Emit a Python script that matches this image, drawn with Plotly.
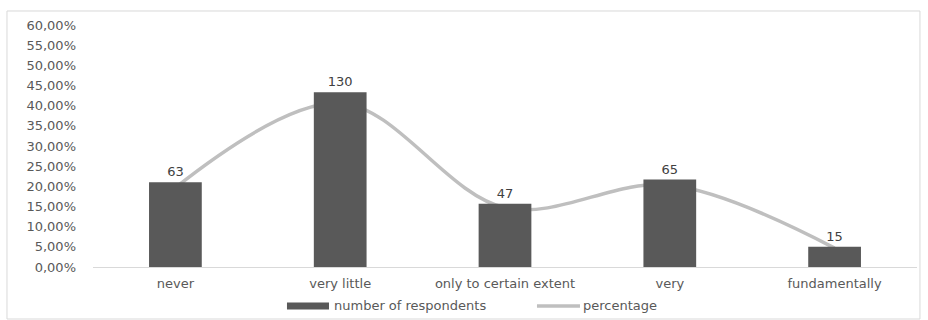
import plotly.graph_objects as go

# Survey answers
categories = ["never", "very little", "only to certain extent", "very", "fundamentally"]
respondents = [63, 130, 47, 65, 15]
percentage = [0.1969, 0.4063, 0.1469, 0.2031, 0.0469]

tick_vals = [i * 0.05 for i in range(13)]
tick_text = ["0,00%", "5,00%", "10,00%", "15,00%", "20,00%", "25,00%", "30,00%",
             "35,00%", "40,00%", "45,00%", "50,00%", "55,00%", "60,00%"]

series_names = ["number of respondents", "percentage"]

FONT = "DejaVu Sans"
BAR_COLOR = "#595959"
LINE_COLOR = "#BFBFBF"
TEXT_COLOR = "#595959"
FS = 13

fig = go.Figure()

fig.add_trace(go.Bar(
    x=categories,
    y=respondents,
    name=series_names[0],
    yaxis="y2",
    marker=dict(color=BAR_COLOR, line=dict(width=0)),
    width=0.32,
    text=[str(v) for v in respondents],
    textposition="outside",
    cliponaxis=False,
    textfont=dict(family=FONT, size=FS, color="#404040"),
    showlegend=False,
))

fig.add_trace(go.Scatter(
    x=categories,
    y=percentage,
    name=series_names[1],
    mode="lines",
    line=dict(color=LINE_COLOR, width=3.5, shape="spline", smoothing=1.0),
    showlegend=False,
))

# Legend row beneath the category axis (paper coordinates)
legend_y = -0.161
shapes = [
    # outer chart frame
    dict(type="rect", xref="paper", yref="paper",
         x0=-0.1044, x1=1.0036, y0=-0.2149, y1=1.0579,
         line=dict(color="#D9D9D9", width=1), fillcolor="rgba(0,0,0,0)",
         layer="below"),
    # bar swatch
    dict(type="rect", xref="paper", yref="paper",
         x0=0.2354, x1=0.2864, y0=legend_y - 0.0145, y1=legend_y + 0.0145,
         line=dict(width=0), fillcolor=BAR_COLOR),
    # line swatch
    dict(type="line", xref="paper", yref="paper",
         x0=0.5388, x1=0.5910, y0=legend_y, y1=legend_y,
         line=dict(color=LINE_COLOR, width=3.5)),
]
annotations = [
    dict(xref="paper", yref="paper", x=0.2895, y=legend_y,
         xanchor="left", yanchor="middle", showarrow=False,
         text=series_names[0], font=dict(family=FONT, size=FS, color=TEXT_COLOR)),
    dict(xref="paper", yref="paper", x=0.5925, y=legend_y,
         xanchor="left", yanchor="middle", showarrow=False,
         text=series_names[1], font=dict(family=FONT, size=FS, color=TEXT_COLOR)),
]

fig.update_layout(
    width=928,
    height=320,
    margin=dict(l=93, r=11, t=25, b=53),
    paper_bgcolor="white",
    plot_bgcolor="white",
    font=dict(family=FONT, size=FS, color=TEXT_COLOR),
    showlegend=False,
    xaxis=dict(
        showline=True,
        linecolor="#D9D9D9",
        linewidth=1,
        showgrid=False,
        ticks="",
        ticklabelstandoff=4,
        tickfont=dict(family=FONT, size=FS, color=TEXT_COLOR),
    ),
    yaxis=dict(
        range=[0, 0.6],
        tickvals=tick_vals,
        ticktext=tick_text,
        showgrid=False,
        zeroline=False,
        showline=False,
        ticks="",
        ticklabelstandoff=16,
        tickfont=dict(family=FONT, size=FS, color=TEXT_COLOR),
    ),
    yaxis2=dict(
        range=[0, 180],
        overlaying="y",
        side="right",
        visible=False,
        showgrid=False,
    ),
    shapes=shapes,
    annotations=annotations,
)

fig.write_html("out.html")
